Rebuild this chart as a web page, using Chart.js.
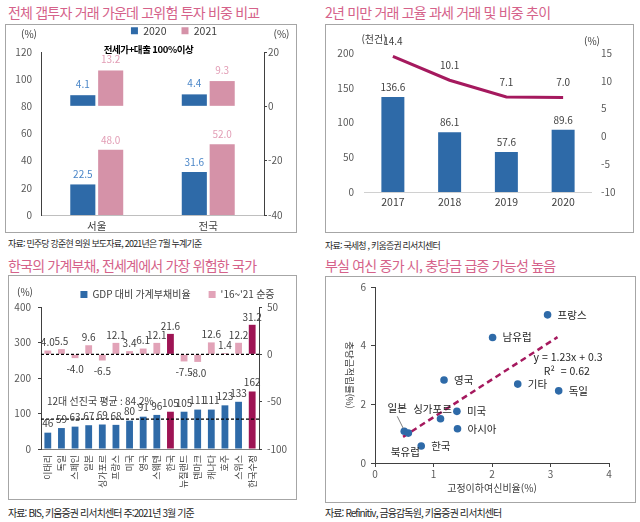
<!DOCTYPE html>
<html lang="ko">
<head>
<meta charset="utf-8">
<script src="https://cdn.jsdelivr.net/npm/chart.js@4.4.1/dist/chart.umd.min.js"></script>
<style>
body { margin:0; width:640px; height:522px; position:relative; background:#fff; overflow:hidden;
       font-family:'Noto Sans CJK KR','Noto Sans',sans-serif; }
.title { position:absolute; font-size:14px; letter-spacing:-0.8px; color:#d5628a; white-space:nowrap; line-height:19px; }
.box { position:absolute; border:1px solid #a6a6a6; box-sizing:border-box; }
.src { position:absolute; font-size:10px; letter-spacing:-0.9px; color:#262626; white-space:nowrap; line-height:14px; }
.src.small { font-size:9px; letter-spacing:-0.8px; }
canvas { position:absolute; }
</style>
</head>
<body>
<div class="title" style="left:8px;top:3px">전체 갭투자 거래 가운데 고위험 투자 비중 비교</div>
<div class="title" style="left:325px;top:3px">2년 미만 거래 고율 과세 거래 및 비중 추이</div>
<div class="title" style="left:8px;top:256px">한국의 가계부채, 전세계에서 가장 위험한 국가</div>
<div class="title" style="left:325px;top:256px">부실 여신 증가 시, 충당금 급증 가능성 높음</div>

<div class="box" style="left:5px;top:24px;width:292px;height:209px"></div>
<div class="box" style="left:325px;top:24px;width:309px;height:209px"></div>
<div class="box" style="left:8px;top:275px;width:289px;height:225px"></div>
<div class="box" style="left:325px;top:276px;width:311px;height:227px"></div>

<canvas id="GapChart" width="292" height="209" style="left:5px;top:24px"></canvas>
<canvas id="TaxChart" width="309" height="209" style="left:325px;top:24px"></canvas>
<canvas id="DebtChart" width="289" height="225" style="left:8px;top:275px"></canvas>
<canvas id="NplChart" width="311" height="227" style="left:325px;top:276px"></canvas>

<div class="src small" style="left:8px;top:237px">자료: 민주당 강준현 의원 보도자료, 2021년은 7월 누계기준</div>
<div class="src small" style="left:325px;top:239px">자료: 국세청 , 키움증권 리서치센터</div>
<div class="src" style="left:8px;top:506px">자료: BIS, 키움증권 리서치센터 주:2021년 3월 기준</div>
<div class="src" style="left:325px;top:506px">자료: Refinitiv, 금융감독원, 키움증권 리서치센터</div>

<script>
// 갭투자 고위험 비중 (좌: 전체 / 우: 전세가+대출 100%이상)
const gapRegions = ['서울', '전국'];
const gapAll2020 = [22.5, 31.6];
const gapAll2021 = [48.0, 52.0];
const gapOver2020 = [4.1, 4.4];
const gapOver2021 = [13.2, 9.3];

// 2년 미만 거래
const taxYears = ['2017', '2018', '2019', '2020'];
const taxCount = [136.6, 86.1, 57.6, 89.6];
const taxShare = [14.4, 10.1, 7.1, 7.0];

// 가계부채
const debtCountries = ['이태리', '독일', '스페인', '일본', '싱가포르', '프랑스', '미국', '영국', '스웨덴',
                       '한국', '뉴질랜드', '덴마크', '캐나다', '호주', '스위스', '한국수정'];
const debtRatio = [46, 59, 63, 67, 69, 68, 80, 91, 96, 105, 105, 111, 111, 123, 133, 162];
const debtChange = [4.0, 5.5, -4.0, 9.6, -6.5, 12.1, 3.4, 6.1, 12.1, 21.6, -7.5, -8.0, 12.6, 1.4, 12.2, 31.2];
const debtHighlight = ['한국', '한국수정'];
const debtAvg = 84.2;

// 고정이하여신비율 vs 충당금적립률
const nplNames = ['프랑스', '남유럽', '영국', '기타', '독일', '미국', '싱가포르', '아시아', '일본', '북유럽', '한국'];
const nplRatio = [2.95, 2.01, 1.18, 2.44, 3.14, 1.40, 1.12, 1.41, 0.50, 0.57, 0.79];
const provisionRatio = [5.05, 4.28, 2.83, 2.69, 2.46, 1.76, 1.51, 1.17, 1.08, 1.02, 0.58];
const trendX = [0.48, 3.12];
const trendY = [0.89, 4.29];

const FONT = "'Noto Sans CJK KR', 'Noto Sans', sans-serif";
const BLUE = '#2e6aa8';
const PINK = '#d592a8';
const PINK_LIGHT = '#e2a3b8';
const MAROON = '#9e1454';
const TEXT = '#404040';

Chart.defaults.font.family = FONT;
Chart.defaults.font.size = 10;
Chart.defaults.color = '#595959';
Chart.defaults.animation = false;
Chart.defaults.plugins.tooltip.enabled = false;

// legend: fixed height, moved box
function legendBox(cfg) {
    return {
        id: 'legendBox',
        beforeInit(chart) {
            const legend = chart.legend;
            if (!legend || cfg.height == null) return;
            const fit = legend.fit;
            legend.fit = function () {
                fit.call(this);
                this.height = cfg.height;
            };
        },
        afterLayout(chart) {
            const legend = chart.legend;
            if (!legend) return;
            if (cfg.dx) { legend.left += cfg.dx; legend.right += cfg.dx; }
            if (cfg.top != null) {
                const h = legend.bottom - legend.top;
                legend.top = cfg.top;
                legend.bottom = cfg.top + h;
            }
        }
    };
}

// value labels over bars / points
const valueLabels = {
    id: 'valueLabels',
    afterDatasetsDraw(chart) {
        const ctx = chart.ctx;
        chart.data.datasets.forEach((ds, i) => {
            if (!ds.labelColor) return;
            chart.getDatasetMeta(i).data.forEach((el, j) => {
                const v = ds.data[j];
                const neg = v < 0;
                ctx.save();
                ctx.font = (ds.labelSize || 10) + 'px ' + FONT;
                ctx.fillStyle = ds.labelColor;
                ctx.textAlign = 'center';
                ctx.textBaseline = neg ? 'top' : 'bottom';
                const txt = v.toFixed(ds.labelDigits == null ? 1 : ds.labelDigits);
                const y = neg ? el.y + (ds.labelGapNeg || 4) : el.y - (ds.labelGap || 4);
                ctx.fillText(txt, el.x, y);
                ctx.restore();
            });
        });
    }
};

function notes(items) {
    return {
        id: 'notes',
        afterDraw(chart) {
            const ctx = chart.ctx;
            items.forEach(n => {
                const p = n.at(chart);
                ctx.save();
                ctx.font = n.font || ('10px ' + FONT);
                ctx.fillStyle = n.color || TEXT;
                ctx.textAlign = n.align || 'center';
                ctx.textBaseline = 'middle';
                if (n.ls) ctx.letterSpacing = n.ls;
                ctx.translate(p.x, p.y);
                if (n.rotate) ctx.rotate(n.rotate);
                ctx.fillText(n.text, 0, 0);
                ctx.restore();
            });
        }
    };
}

function fixWidth(w) { return s => { s.width = w; }; }
function fixHeight(h) { return s => { s.height = h; }; }

function updateGapChart() {
    let ctx = document.getElementById('GapChart').getContext('2d');
    window.GapChart = new Chart(ctx, {
        type: 'bar',
        data: {
            labels: gapRegions,
            datasets: [
                { label: '2020', data: gapAll2020, yAxisID: 'y', stack: '2020', backgroundColor: BLUE,
                  labelColor: '#4a86c8', labelGap: 5 },
                { label: '2021', data: gapAll2021, yAxisID: 'y', stack: '2021', backgroundColor: PINK,
                  labelColor: '#e29db5', labelGap: 5 },
                { label: '2020', data: gapOver2020, yAxisID: 'y1', stack: '2020', backgroundColor: BLUE,
                  labelColor: '#4a86c8', labelGap: 6 },
                { label: '2021', data: gapOver2021, yAxisID: 'y1', stack: '2021', backgroundColor: PINK,
                  labelColor: '#e29db5', labelGap: 6 }
            ]
        },
        options: {
            responsive: false,
            categoryPercentage: 0.5,
            barPercentage: 0.9,
            layout: { padding: 0 },
            plugins: {
                legend: {
                    position: 'top',
                    labels: {
                        filter: item => item.datasetIndex < 2,
                        boxWidth: 7, boxHeight: 7, padding: 15,
                        color: TEXT,
                        font: { size: 10.5 }
                    }
                }
            },
            scales: {
                x: {
                    grid: { display: false, drawTicks: false },
                    border: { color: '#bfbfbf' },
                    ticks: { color: TEXT, padding: 5, font: { size: 10.5 } },
                    afterFit: fixHeight(18)
                },
                y: {
                    position: 'left', min: 0, max: 120,
                    ticks: { stepSize: 20, padding: 9, color: '#595959' },
                    grid: { display: false, drawTicks: false },
                    border: { color: '#404040' },
                    afterFit: fixWidth(36)
                },
                y1: {
                    position: 'right', min: -40, max: 20,
                    ticks: { stepSize: 20, padding: 1, color: '#595959' },
                    grid: { drawOnChartArea: false, tickLength: 3, color: '#404040' },
                    border: { color: '#404040' },
                    afterFit: fixWidth(33)
                }
            }
        },
        plugins: [
            legendBox({ height: 28, top: -13.5, dx: 23 }),
            valueLabels,
            notes([
                { text: '(%)', at: c => ({ x: c.chartArea.left - 12, y: c.chartArea.top - 18 }) },
                { text: '(%)', at: c => ({ x: c.chartArea.right + 17.5, y: c.chartArea.top - 18 }) },
                { text: '전세가+대출 100%이상', font: 'bold 9.5px ' + FONT, color: '#000', ls: '-0.4px',
                  at: c => ({ x: (c.chartArea.left + c.chartArea.right) / 2 - 4, y: c.chartArea.top - 3 }) }
            ])
        ]
    });
}

function updateTaxChart() {
    let ctx = document.getElementById('TaxChart').getContext('2d');
    window.TaxChart = new Chart(ctx, {
        type: 'bar',
        data: {
            labels: taxYears,
            datasets: [
                { type: 'bar', label: '거래건수', data: taxCount, yAxisID: 'y', backgroundColor: BLUE,
                  labelColor: TEXT, labelGap: 5 },
                { type: 'line', label: '전체주택 거래대비 비중', data: taxShare, yAxisID: 'y1',
                  borderColor: '#a5195e', backgroundColor: '#a5195e', borderWidth: 3, pointRadius: 0,
                  labelColor: TEXT, labelGap: 10 }
            ]
        },
        options: {
            responsive: false,
            categoryPercentage: 1,
            barPercentage: 0.405,
            layout: { padding: { top: 29 } },
            plugins: {
                legend: {
                    position: 'bottom',
                    labels: {
                        boxWidth: 22, boxHeight: 5, padding: 32,
                        color: TEXT,
                        font: { size: 10 }
                    }
                }
            },
            scales: {
                x: {
                    grid: { display: false, drawTicks: false },
                    border: { color: '#d0d0d0' },
                    ticks: { color: TEXT, padding: 4, font: { size: 10.5 } },
                    afterFit: fixHeight(20)
                },
                y: {
                    position: 'left', min: 0, max: 200,
                    ticks: { stepSize: 50, padding: 10.5 },
                    grid: { display: false, drawTicks: false },
                    border: { display: false },
                    afterFit: fixWidth(39.5)
                },
                y1: {
                    position: 'right', min: -10, max: 15,
                    ticks: { stepSize: 5, padding: 9.5 },
                    grid: { display: false, drawTicks: false },
                    border: { display: false },
                    afterFit: fixWidth(42.5)
                }
            }
        },
        plugins: [
            legendBox({ height: 21, top: 160.5 }),
            valueLabels,
            notes([
                { text: '(천건)', at: c => ({ x: c.chartArea.left + 9.5, y: c.chartArea.top - 14 }) },
                { text: '(%)', at: c => ({ x: c.chartArea.right + 0.5, y: c.chartArea.top - 12 }) }
            ])
        ]
    });
}

function updateDebtChart() {
    const isHighlight = c => debtHighlight.includes(debtCountries[c.dataIndex]);
    let ctx = document.getElementById('DebtChart').getContext('2d');
    window.DebtChart = new Chart(ctx, {
        type: 'bar',
        data: {
            labels: debtCountries,
            datasets: [
                { label: 'GDP 대비 가계부채비율', data: debtRatio, yAxisID: 'y', stack: 's',
                  backgroundColor: c => isHighlight(c) ? MAROON : BLUE,
                  labelColor: TEXT, labelDigits: 0, labelGap: 4 },
                { label: "'16~'21 순증", data: debtChange, yAxisID: 'y1', stack: 's',
                  backgroundColor: c => isHighlight(c) ? MAROON : PINK_LIGHT,
                  labelColor: TEXT, labelGap: 3, labelGapNeg: 6 }
            ]
        },
        options: {
            responsive: false,
            categoryPercentage: 1,
            barPercentage: 0.5,
            layout: { padding: 0 },
            plugins: {
                legend: {
                    position: 'top',
                    labels: {
                        boxWidth: 7, boxHeight: 7, padding: 18,
                        color: TEXT,
                        font: { size: 10 }
                    }
                }
            },
            scales: {
                x: {
                    grid: { display: false, drawTicks: false },
                    border: { color: '#7f7f7f' },
                    ticks: { color: TEXT, padding: 6, font: { size: 9 }, autoSkip: false,
                             maxRotation: 90, minRotation: 90 },
                    afterFit: fixHeight(51)
                },
                y: {
                    position: 'left', min: 0, max: 400,
                    ticks: { stepSize: 100, padding: 7 },
                    grid: { drawOnChartArea: false, tickLength: 3, color: '#404040' },
                    border: { color: '#404040' },
                    afterFit: fixWidth(33)
                },
                y1: {
                    position: 'right', min: -100, max: 50,
                    ticks: { stepSize: 50, padding: 5 },
                    grid: { drawOnChartArea: false, tickLength: 3, color: '#404040' },
                    border: { color: '#404040' },
                    afterFit: fixWidth(38)
                }
            }
        },
        plugins: [
            legendBox({ height: 32, top: -3.5, dx: 25 }),
            {
                id: 'refLines',
                afterDatasetsDraw(chart) {
                    const { ctx, chartArea, scales } = chart;
                    [scales.y1.getPixelForValue(0), scales.y.getPixelForValue(debtAvg)].forEach(y => {
                        ctx.save();
                        ctx.setLineDash([3, 2]);
                        ctx.strokeStyle = '#000';
                        ctx.lineWidth = 1.2;
                        ctx.beginPath();
                        ctx.moveTo(chartArea.left, y);
                        ctx.lineTo(chartArea.right, y);
                        ctx.stroke();
                        ctx.restore();
                    });
                }
            },
            valueLabels,
            notes([
                { text: '(%)', at: c => ({ x: c.chartArea.left - 16, y: c.chartArea.top - 15 }) },
                { text: '12대 선진국 평균 : ' + debtAvg + '%', align: 'left', color: TEXT,
                  at: c => ({ x: c.chartArea.left + 6, y: c.scales.y.getPixelForValue(debtAvg) - 18 }) }
            ])
        ]
    });
}

function updateNplChart() {
    // label placement around each point
    const place = {
        '싱가포르': { dx: -8, dy: -10, align: 'center' },
        '일본': { dx: -7, dy: -23, align: 'center', leader: true },
        '북유럽': { dx: -3, dy: 19, align: 'center' }
    };
    let ctx = document.getElementById('NplChart').getContext('2d');
    window.NplChart = new Chart(ctx, {
        type: 'scatter',
        data: {
            datasets: [
                { label: '국가', data: nplNames.map((n, i) => ({ x: nplRatio[i], y: provisionRatio[i] })),
                  backgroundColor: BLUE, borderWidth: 0, pointRadius: 3.8 },
                { type: 'line', label: '추세', data: trendX.map((x, i) => ({ x: x, y: trendY[i] })),
                  borderColor: '#a5195e', borderWidth: 2.5, borderDash: [6, 4], pointRadius: 0, fill: false }
            ]
        },
        options: {
            responsive: false,
            layout: { padding: { top: 9, right: 27 } },
            plugins: { legend: { display: false } },
            scales: {
                x: {
                    type: 'linear', min: 0, max: 4,
                    ticks: { stepSize: 1, padding: 1, color: '#595959' },
                    grid: { drawOnChartArea: false, tickLength: 4, color: '#404040' },
                    border: { color: '#404040' },
                    afterFit: fixHeight(40)
                },
                y: {
                    min: 0, max: 6,
                    ticks: { stepSize: 2, padding: 5, color: '#595959' },
                    grid: { drawOnChartArea: false, tickLength: 4, color: '#404040' },
                    border: { color: '#404040' },
                    afterFit: fixWidth(50)
                }
            }
        },
        plugins: [
            {
                id: 'pointNames',
                afterDatasetsDraw(chart) {
                    const c = chart.ctx;
                    chart.getDatasetMeta(0).data.forEach((el, i) => {
                        const name = nplNames[i];
                        const o = place[name] || { dx: 10, dy: 0, align: 'left' };
                        c.save();
                        c.font = '10.5px ' + FONT;
                        c.fillStyle = '#262626';
                        c.textAlign = o.align;
                        c.textBaseline = 'middle';
                        c.fillText(name, el.x + o.dx, el.y + o.dy);
                        if (o.leader) {
                            c.strokeStyle = '#7f7f7f';
                            c.lineWidth = 1;
                            c.beginPath();
                            c.moveTo(el.x - 7, el.y - 15);
                            c.lineTo(el.x - 1, el.y - 3);
                            c.stroke();
                        }
                        c.restore();
                    });
                }
            },
            notes([
                { text: '고정이하여신비율(%)', at: c => ({ x: (c.chartArea.left + c.chartArea.right) / 2, y: c.chartArea.bottom + 25 }) },
                { text: '충당금적립률(%)', rotate: Math.PI / 2, font: '9.5px ' + FONT,
                  at: c => ({ x: c.chartArea.left - 25, y: (c.chartArea.top + c.chartArea.bottom) / 2 }) },
                { text: 'y = 1.23x + 0.3', color: '#262626', font: '10.5px ' + FONT,
                  at: c => ({ x: c.scales.x.getPixelForValue(3.3), y: c.scales.y.getPixelForValue(3.6) }) },
                { text: 'R²  = 0.62', color: '#262626', font: '10.5px ' + FONT,
                  at: c => ({ x: c.scales.x.getPixelForValue(3.28), y: c.scales.y.getPixelForValue(3.13) }) }
            ])
        ]
    });
}

window.onload = function () {
    updateGapChart();
    updateTaxChart();
    updateDebtChart();
    updateNplChart();
};
</script>
</body>
</html>
